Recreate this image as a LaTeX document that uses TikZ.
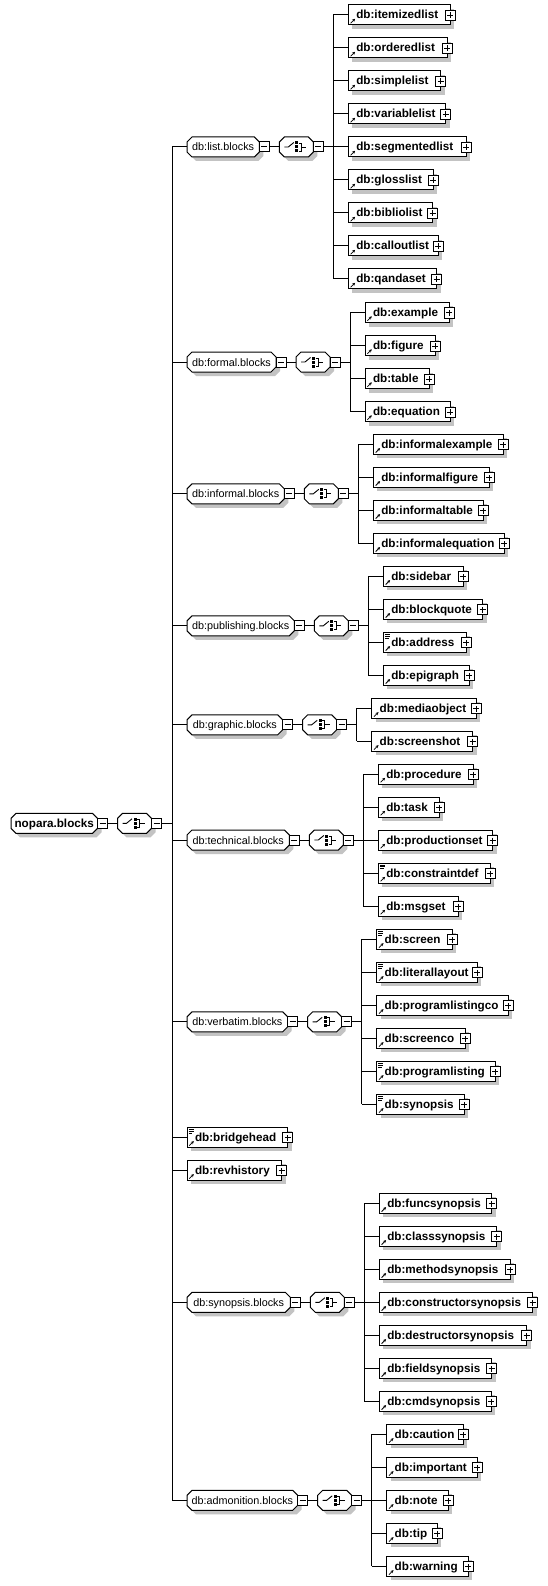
\documentclass[tikz,border=0pt]{standalone}
\usepackage{fontspec}
\setmainfont{Liberation Sans}
\usetikzlibrary{arrows.meta}
\definecolor{shadowc}{RGB}{195,195,195}
\tikzset{
  box/.style={draw, fill=white, line width=1pt, inner sep=0pt, outer sep=0pt, minimum height=20pt},
  pm/.style={draw, fill=white, line width=1pt, inner sep=0pt, outer sep=0pt, minimum size=10pt},
  eltxt/.style={inner sep=0pt, outer sep=0pt, font=\fontsize{11.7}{13}\selectfont\bfseries},
  grptxt/.style={inner sep=0pt, outer sep=0pt, minimum height=20pt, text height=8pt, text depth=0pt, font=\fontsize{10.8}{12}\selectfont},
  roottxt/.style={inner sep=0pt, outer sep=0pt, minimum height=20pt, text height=8pt, text depth=0pt, font=\fontsize{11.7}{13}\selectfont\bfseries},
  conn/.style={line width=1pt},
  icon/.style={line width=0.8pt},
}
% octagon with shadow: left, right, cy
\newcommand\octo[3]{%
  \fill[shadowc] (#1+4,#3-1) -- (#1+9,#3-6) -- (#2-1,#3-6) -- (#2+4,#3-1) -- (#2+4,#3+9) -- (#2-1,#3+14) -- (#1+9,#3+14) -- (#1+4,#3+9) -- cycle;
  \draw[line width=1pt, fill=white] (#1,#3-5) -- (#1+5,#3-10) -- (#2-5,#3-10) -- (#2,#3-5) -- (#2,#3+5) -- (#2-5,#3+10) -- (#1+5,#3+10) -- (#1,#3+5) -- cycle;
}
\newcommand\minusbox[3]{%
  \node[pm] (#1) at (#2,#3) {};
  \draw[line width=1pt] (#2-3,#3) -- (#2+3,#3);
}
\newcommand\plusbox[3]{%
  \node[pm] (#1) at (#2,#3) {};
  \draw[line width=1pt] (#2-3,#3) -- (#2+3,#3) (#2,#3-3) -- (#2,#3+3);
}
% compositor: name, left, cy
\newcommand\compo[3]{%
  \octo{#2}{#2+34}{#3}
  \node[inner sep=0pt, outer sep=0pt, minimum width=34pt, minimum height=20pt] (#1) at (#2+17,#3) {};
  \draw[line width=0.9pt] (#2+5,#3) -- (#2+9,#3) -- (#2+14.5,#3-4.5);
  \fill (#2+16,#3-5.5) rectangle ++(3,3);
  \fill (#2+16,#3-1.5) rectangle ++(3,3);
  \fill (#2+16,#3+2.5) rectangle ++(3,3);
  \draw[line width=0.9pt] (#2+19.5,#3-4) -- (#2+22,#3-4) -- (#2+22,#3+4) -- (#2+19.5,#3+4) (#2+22,#3) -- (#2+27,#3);
}
% group: name, right edge, cy, text
\newcommand\grp[4]{%
  \octo{187}{#2}{#3}
  \pgfmathsetmacro\gw{#2-187}
  \pgfmathsetmacro\gx{(#2+187)/2}
  \node[grptxt, minimum width=\gw pt] (#1) at (\gx,#3) {#4};
  \minusbox{#1m}{#2+5}{#3}
  \compo{#1c}{#2+20}{#3}
  \minusbox{#1n}{#2+59}{#3}
  \coordinate (#1b) at (#2+74,#3);
  \draw[conn] (#1m.east) -- (#1c.west);
  \draw[conn] (#1n.east) -- (#1b);
}
% element: name, left, cy, right, text, mixed
\newcommand\elm[6]{%
  \pgfmathsetmacro\ew{#4-#2}
  \fill[shadowc] (#2+4,#3-6) rectangle (#4+4,#3+14);
  \node[box, minimum width=\ew pt, anchor=west] (#1) at (#2,#3) {};
  \node[eltxt, anchor=base west] (#1t) at (#2+8,#3+4) {#5};
  \draw[icon, -{Stealth[length=3pt,width=3pt]}] (#2+2.3,#3+8.3) -- (#2+6.8,#3+3.8);
  \ifnum#6=1 \draw[icon] (#2+1.7,#3-8) -- ++(5,0) (#2+1.7,#3-6.2) -- ++(5,0) (#2+1.7,#3-4.4) -- ++(3.5,0);\fi
  \plusbox{#1p}{#4}{#3+0.5}
}
\newcommand\kid[2]{\draw[conn] (#1b |- #2.west) -- (#2.west);}
\begin{document}
\begin{tikzpicture}[x=1pt,y=-1pt]
\path[use as bounding box, fill=white] (0,0) rectangle (547,1586);
\coordinate (tr) at (172,823.3);

% root
\octo{11}{97.5}{823.3}
\node[roottxt, minimum width=86.5pt] (root) at (54.25,823.3) {nopara.blocks};
\minusbox{rootm}{102.5}{823.3}
\compo{rootc}{117.5}{823.3}
\minusbox{rootn}{156.5}{823.3}
\draw[conn] (rootm.east) -- (rootc.west);
\draw[conn] (rootn.east) -- (tr);

% list.blocks
\grp{gl}{259.3}{147}{db:list.blocks}
\elm{l1}{348.3}{15}{450.3}{db:itemizedlist}{0}
\elm{l2}{348.3}{48}{447.3}{db:orderedlist}{0}
\elm{l3}{348.3}{81}{440.7}{db:simplelist}{0}
\elm{l4}{348.3}{114}{445.7}{db:variablelist}{0}
\elm{l5}{348.3}{147}{466}{db:segmentedlist}{0}
\elm{l6}{348.3}{180}{433.3}{db:glosslist}{0}
\elm{l7}{348.3}{213}{432.7}{db:bibliolist}{0}
\elm{l8}{348.3}{246}{438.3}{db:calloutlist}{0}
\elm{l9}{348.3}{279}{436.7}{db:qandaset}{0}
\draw[conn] (glb |- l1.west) -- (glb |- l9.west);
\foreach \k in {l1,l2,l3,l4,l5,l6,l7,l8,l9} {\kid{gl}{\k}}

% formal.blocks
\grp{gf}{276}{362}{db:formal.blocks}
\elm{f1}{365}{312.5}{449.3}{db:example}{0}
\elm{f2}{365}{345.5}{435.3}{db:figure}{0}
\elm{f3}{365}{378.5}{429.3}{db:table}{0}
\elm{f4}{365}{411.5}{450}{db:equation}{0}
\draw[conn] (gfb |- f1.west) -- (gfb |- f4.west);
\foreach \k in {f1,f2,f3,f4} {\kid{gf}{\k}}

% informal.blocks
\grp{gi}{284.3}{493.8}{db:informal.blocks}
\elm{i1}{373.3}{444.3}{503.3}{db:informalexample}{0}
\elm{i2}{373.3}{477.3}{489.3}{db:informalfigure}{0}
\elm{i3}{373.3}{510.3}{483.3}{db:informaltable}{0}
\elm{i4}{373.3}{543.3}{504.3}{db:informalequation}{0}
\draw[conn] (gib |- i1.west) -- (gib |- i4.west);
\foreach \k in {i1,i2,i3,i4} {\kid{gi}{\k}}

% publishing.blocks
\grp{gp}{294.3}{625.8}{db:publishing.blocks}
\elm{p1}{383.3}{576.3}{463.3}{db:sidebar}{0}
\elm{p2}{383.3}{609.3}{482.7}{db:blockquote}{0}
\elm{p3}{383.3}{642.3}{466}{db:address}{1}
\elm{p4}{383.3}{675.3}{469.3}{db:epigraph}{0}
\draw[conn] (gpb |- p1.west) -- (gpb |- p4.west);
\foreach \k in {p1,p2,p3,p4} {\kid{gp}{\k}}

% graphic.blocks
\grp{gg}{282.7}{724.8}{db:graphic.blocks}
\elm{r1}{371.7}{708.3}{476}{db:mediaobject}{0}
\elm{r2}{371.7}{741.3}{472.7}{db:screenshot}{0}
\draw[conn] (ggb |- r1.west) -- (ggb |- r2.west);
\foreach \k in {r1,r2} {\kid{gg}{\k}}

% technical.blocks
\grp{gt}{289.3}{840}{db:technical.blocks}
\elm{t1}{378.3}{774}{473.3}{db:procedure}{0}
\elm{t2}{378.3}{807}{439.3}{db:task}{0}
\elm{t3}{378.3}{840}{492.7}{db:productionset}{0}
\elm{t4}{378.3}{873}{490}{db:constraintdef}{1}
\elm{t5}{378.3}{906}{458.3}{db:msgset}{0}
\draw[conn] (gtb |- t1.west) -- (gtb |- t5.west);
\foreach \k in {t1,t2,t3,t4,t5} {\kid{gt}{\k}}

% verbatim.blocks
\grp{gv}{287.7}{1021.8}{db:verbatim.blocks}
\elm{v1}{376.7}{939.3}{452.3}{db:screen}{1}
\elm{v2}{376.7}{972.3}{477.3}{db:literallayout}{1}
\elm{v3}{376.7}{1005.3}{508.3}{db:programlistingco}{0}
\elm{v4}{376.7}{1038.3}{465.3}{db:screenco}{0}
\elm{v5}{376.7}{1071.3}{495}{db:programlisting}{1}
\elm{v6}{376.7}{1104.3}{464}{db:synopsis}{1}
\draw[conn] (gvb |- v1.west) -- (gvb |- v6.west);
\foreach \k in {v1,v2,v3,v4,v5,v6} {\kid{gv}{\k}}

% bridgehead, revhistory
\elm{bh}{187}{1137.3}{287.7}{db:bridgehead}{1}
\elm{rh}{187}{1170.3}{281.7}{db:revhistory}{0}

% synopsis.blocks
\grp{gs}{290.3}{1302.3}{db:synopsis.blocks}
\elm{s1}{379.3}{1203.3}{491.7}{db:funcsynopsis}{0}
\elm{s2}{379.3}{1236.3}{496.7}{db:classsynopsis}{0}
\elm{s3}{379.3}{1269.3}{510}{db:methodsynopsis}{0}
\elm{s4}{379.3}{1302.3}{532.7}{db:constructorsynopsis}{0}
\elm{s5}{379.3}{1335.3}{526.7}{db:destructorsynopsis}{0}
\elm{s6}{379.3}{1368.3}{491.7}{db:fieldsynopsis}{0}
\elm{s7}{379.3}{1401.3}{491}{db:cmdsynopsis}{0}
\draw[conn] (gsb |- s1.west) -- (gsb |- s7.west);
\foreach \k in {s1,s2,s3,s4,s5,s6,s7} {\kid{gs}{\k}}

% admonition.blocks
\grp{ga}{297.7}{1500.3}{db:admonition.blocks}
\elm{a1}{386.7}{1434.3}{463.3}{db:caution}{0}
\elm{a2}{386.7}{1467.3}{477.3}{db:important}{0}
\elm{a3}{386.7}{1500.3}{448.3}{db:note}{0}
\elm{a4}{386.7}{1533.3}{437.3}{db:tip}{0}
\elm{a5}{386.7}{1566.3}{468.3}{db:warning}{0}
\draw[conn] (gab |- a1.west) -- (gab |- a5.west);
\foreach \k in {a1,a2,a3,a4,a5} {\kid{ga}{\k}}

% trunk
\draw[conn] (tr |- gl.west) -- (tr |- ga.west);
\foreach \k in {gl,gf,gi,gp,gg,gt,gv,bh,rh,gs,ga} {\draw[conn] (tr |- \k.west) -- (\k.west);}
\end{tikzpicture}
\end{document}
